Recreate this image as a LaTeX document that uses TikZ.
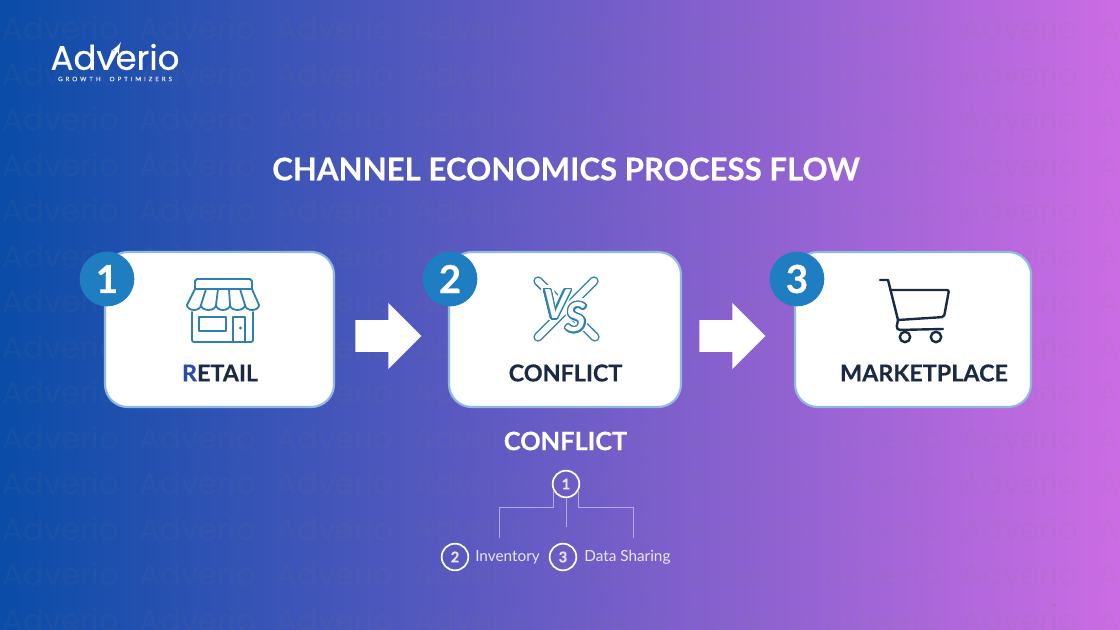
\documentclass[tikz,border=0pt]{standalone}
\usepackage{fontspec}
\usepackage{contour}
\usetikzlibrary{shapes, arrows}
\usetikzlibrary{positioning}
\setmainfont{Lato}[BoldFeatures={FakeBold=0.35}]
\newfontfamily\logofont{Poppins}[FakeBold=0.6]
\newfontfamily\wmarkfont{Poppins}
\newfontfamily\tagfont{Lato}[LetterSpace=48, FakeBold=0.3]
\definecolor{bgleft}{HTML}{0A4CA8}
\definecolor{bgmid}{HTML}{6A5BC9}
\definecolor{bgright}{HTML}{CC6CE4}
\definecolor{cardedge}{HTML}{8FB9DE}
\definecolor{badgeblue}{HTML}{1F7EC2}
\definecolor{iconblue}{HTML}{2F7FB2}
\definecolor{inkdark}{HTML}{1B2A44}
\definecolor{firstletter}{HTML}{2A4BA6}
\tikzset{
  card/.style={fill=white, draw=cardedge, line width=1.6pt, rounded corners=17pt},
  badge/.style={circle, fill=badgeblue, minimum size=41pt, inner sep=0pt, text=white, font=\fontsize{29}{29}\selectfont\bfseries},
  cardlabel/.style={inner sep=0pt, text=inkdark, font=\fontsize{17.5}{17.5}\selectfont\bfseries},
  blockarrow/.style={single arrow, fill=white, inner sep=0pt, minimum height=49.5pt, minimum width=49.5pt, single arrow head extend=13pt},
  ring/.style={circle, draw=white, line width=1.3pt, minimum size=20pt, inner sep=0pt, text=white!85!bgmid, font=\fontsize{11}{11}\selectfont\bfseries},
  treeline/.style={draw=white!48!bgmid, line width=0.65pt},
  treelabel/.style={inner sep=0pt, text=white!85!bgmid, font=\fontsize{11.5}{11.5}\selectfont},
  wmark/.style={inner sep=0pt, text=gray, text opacity=0.08, font=\wmarkfont\fontsize{23}{23}\selectfont},
  storeline/.style={draw=iconblue, line width=1.35pt, line join=round, line cap=round},
  cartline/.style={draw=inkdark, line width=1.8pt, line join=round, line cap=round},
  vsletter/.style={inner sep=0pt, font=\fontsize{30}{30}\selectfont\bfseries\itshape},
}
\begin{document}
\begin{tikzpicture}[x=0.75pt, y=-0.75pt]
  \useasboundingbox (0,0) rectangle (1120,630);
  \shade[left color=bgleft, middle color=bgmid, right color=bgright] (0,0) rectangle (1120,630);

  % watermark
  \foreach \r in {0,...,13}
    \foreach \c in {0,...,8}
      \node[wmark] (wm\r\c) at ({61+\c*137},{28+\r*45.5}) {Adverio};

  % logo
  \node[inner sep=0pt, text=white, font=\logofont\fontsize{25.5}{25.5}\selectfont] (logo) at (115,57) {Adverio};
  \node[inner sep=0pt, text=white!90!bgleft, font=\tagfont\fontsize{4.6}{4.6}\selectfont] (tagline) at (115,79) {GROWTH\ \ OPTIMIZERS};
  \coordinate (tickfoot) at (108,66);
  \coordinate (ticktip) at (121,42);
  \draw[-latex', white, line width=2.2pt] (tickfoot) -- (ticktip);

  % title
  \node[inner sep=0pt, text=white, font=\fontsize{23.4}{23.4}\selectfont\bfseries] (title) at (566,169) {CHANNEL ECONOMICS PROCESS FLOW};

  % cards
  \draw[card] (105,252) rectangle (334,407);
  \draw[card] (449,252) rectangle (681,407);
  \draw[card] (795,252) rectangle (1031,407);

  \node[badge] (b1) at (107,279) {1};
  \node[badge] (b2) at (450,279) {2};
  \node[badge] (b3) at (797,279) {3};

  \node[cardlabel] (retail) at (220,373) {\textcolor{firstletter}{R}ETAIL};
  \node[cardlabel] (conflict) at (565.5,373) {CONFLICT};
  \node[cardlabel] (market) at (924,373) {MARKETPLACE};

  \node[blockarrow] (a1) at (380.5,336) {\rule{0pt}{23.25pt}};
  \node[blockarrow] (a2) at (724.5,336) {\rule{0pt}{23.25pt}};

  % store icon
  \draw[storeline] (197,279) -- (250,279) -- (252,281) -- (252,289) -- (195,289) -- (195,281) -- cycle;
  \draw[storeline] (195,289) -- (187,305) (252,289) -- (259,305);
  \foreach \xa/\xb in {187/201, 201/216, 216/230, 230/245, 245/259} {
    \draw[storeline] (\xa,305) arc[start angle=180, end angle=0, x radius={(\xb-\xa)/2}, y radius=5];
  }
  \foreach \xb/\xc in {201/206, 216/218, 230/229, 245/240} \draw[storeline] (\xb,305) -- (\xc,289);
  \draw[storeline, rounded corners=1.5pt] (192,312) -- (192,342) -- (253,342) -- (253,312);
  \draw[storeline] (199,317) rectangle (226,331);
  \draw[storeline] (233,342) -- (233,317) -- (245,317) -- (245,342);
  \fill[iconblue] (240.5,328) circle (1.2pt);

  % versus icon
  \foreach \w/\k in {7pt/iconblue, 4.8pt/white} {
    \draw[draw=\k, line width=\w, line cap=round] (538,281) -- (595,337);
    \draw[draw=\k, line width=\w, line cap=round] (594,281) -- (538,337);
  }
  \contourlength{2.6pt}
  \node[vsletter] (vsv0) at (556,305) {\contour{white}{V}};
  \node[vsletter] (vss0) at (576,318) {\contour{white}{S}};
  \contourlength{1.1pt}
  \node[vsletter] (vsv) at (556,305) {\contour{iconblue}{\textcolor{white}{V}}};
  \node[vsletter] (vss) at (576,318) {\contour{iconblue}{\textcolor{white}{S}}};

  % cart icon
  \draw[cartline] (880,280) -- (888,280) -- (898,320);
  \draw[cartline, rounded corners=1.5pt] (891,290) -- (949,290) -- (944,317) -- (898,320);
  \draw[cartline, rounded corners=3pt] (898,320) -- (896,330) -- (943,329);
  \draw[cartline] (905,337) circle (5.2);
  \draw[cartline] (936,337) circle (5.2);

  % conflict tree
  \node[inner sep=0pt, text=white, font=\fontsize{19}{19}\selectfont\bfseries] (subtitle) at (565.5,441) {CONFLICT};
  \node[ring] (n1) at (566,484) {1};
  \node[ring] (n2) at (455,557) {2};
  \node[ring] (n3) at (563,557) {3};
  \node[treelabel, anchor=west] (inv) at (475,557) {Inventory};
  \node[treelabel, anchor=west] (data) at (584,557) {Data Sharing};

  \coordinate (elbowL) at (499,507);
  \coordinate (elbowR) at (633,507);
  \coordinate (endL) at (499,538);
  \coordinate (endM) at (566,527);
  \coordinate (endR) at (633,538);
  \draw[treeline] (n1.-155) |- (elbowL) -- (endL);
  \draw[treeline] (n1.south) -- (endM);
  \draw[treeline] (n1.-25) |- (elbowR) -- (endR);

  % page mark
  \fill[gray, opacity=0.35] (1054,605) ellipse (2.5 and 1);
\end{tikzpicture}
\end{document}
